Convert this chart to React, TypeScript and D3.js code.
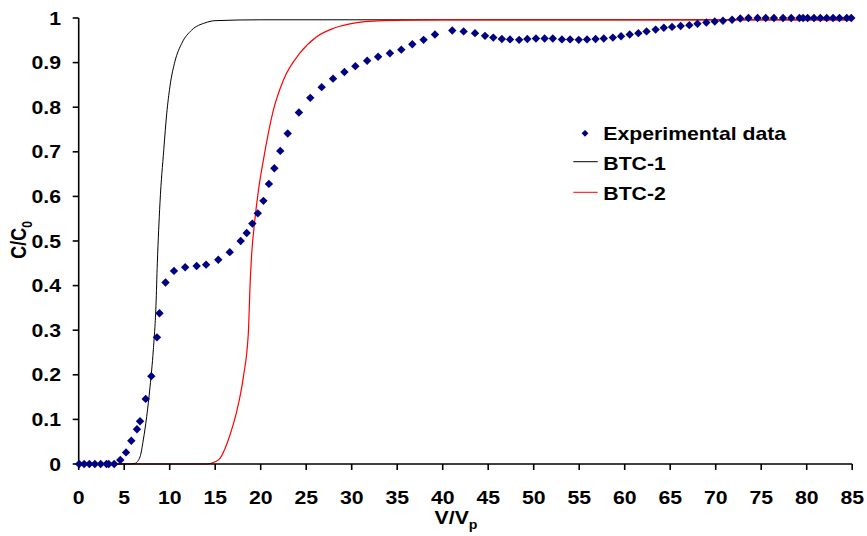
import React from "react";
import * as d3 from "d3";

// Experimental data (V/Vp, C/C0)
const expX = [0.05, 0.6, 1.17, 1.78, 2.42, 3.05, 3.3, 3.9, 4.57, 5.2, 5.78, 6.4, 6.74, 7.36, 7.98, 8.6, 8.88, 9.54, 10.47, 11.7, 12.96, 14.0, 15.34, 16.6, 17.8, 18.46, 19.08, 19.68, 20.3, 20.9, 21.5, 22.15, 22.97, 24.2, 25.45, 26.7, 27.95, 29.2, 30.4, 31.7, 32.9, 34.2, 35.45, 36.66, 37.9, 39.15, 41.05, 42.3, 43.55, 44.65, 45.56, 46.5, 47.4, 48.4, 49.3, 50.25, 51.2, 52.1, 53.1, 54.0, 54.95, 55.86, 56.8, 57.7, 58.7, 59.6, 60.55, 61.5, 62.4, 63.4, 64.3, 65.2, 66.15, 67.1, 68.0, 68.97, 69.9, 70.8, 71.8, 72.7, 73.6, 74.6, 75.5, 76.4, 77.4, 78.3, 79.2, 79.6, 80.1, 80.8, 81.5, 82.2, 82.9, 83.6, 84.4, 84.9];
const expY = [0, 0, 0, 0, 0, 0, 0, 0, 0.009, 0.026, 0.052, 0.078, 0.096, 0.146, 0.197, 0.284, 0.338, 0.407, 0.433, 0.441, 0.444, 0.447, 0.458, 0.475, 0.5, 0.518, 0.539, 0.562, 0.59, 0.628, 0.663, 0.702, 0.741, 0.788, 0.821, 0.845, 0.864, 0.879, 0.892, 0.904, 0.913, 0.921, 0.929, 0.941, 0.951, 0.963, 0.972, 0.97, 0.966, 0.96, 0.956, 0.953, 0.952, 0.951, 0.953, 0.954, 0.954, 0.954, 0.952, 0.952, 0.951, 0.952, 0.953, 0.954, 0.956, 0.959, 0.963, 0.966, 0.97, 0.974, 0.978, 0.98, 0.982, 0.984, 0.987, 0.99, 0.992, 0.994, 0.996, 0.999, 1, 1, 1, 1, 1, 1, 1, 1, 1, 1, 1, 1, 1, 1, 1, 1];

// BTC-1 model curve
const btc1X = [4.3, 5.45, 6.19, 6.74, 7.1, 7.47, 7.84, 8.2, 8.49, 8.64, 8.93, 9.35, 9.67, 10.03, 10.58, 11.32, 12.42, 13.88, 14.98, 20, 40, 85];
const btc1Y = [0, 0, 0.0015, 0.016, 0.054, 0.106, 0.173, 0.256, 0.355, 0.45, 0.585, 0.705, 0.785, 0.847, 0.903, 0.943, 0.973, 0.989, 0.994, 0.996, 0.996, 0.996];

// BTC-2 model curve
const btc2X = [4.3, 14.0, 15.0, 15.5, 16.3, 17.0, 17.4, 18.1, 18.64, 18.85, 19.0, 19.37, 19.74, 20.3, 21.4, 22.5, 24.3, 26.15, 28.0, 29.8, 33.4, 40, 85];
const btc2Y = [0, 0, 0.005, 0.012, 0.046, 0.09, 0.121, 0.196, 0.293, 0.41, 0.468, 0.55, 0.612, 0.682, 0.794, 0.861, 0.921, 0.958, 0.977, 0.987, 0.994, 0.996, 0.996];

const xTicks = [0, 5, 10, 15, 20, 25, 30, 35, 40, 45, 50, 55, 60, 65, 70, 75, 80, 85];
const yTicks = [0, 0.1, 0.2, 0.3, 0.4, 0.5, 0.6, 0.7, 0.8, 0.9, 1];
const legendLabels = ["Experimental data", "BTC-1", "BTC-2"];

const FONT = "'Liberation Sans', Arial, sans-serif";
const SX = 1.18;

export default function App() {
  const x = d3.scaleLinear().domain([0, 85]).range([78.7, 852.2]);
  const y = d3.scaleLinear().domain([0, 1]).range([464, 18]);

  const line = d3
    .line<[number, number]>()
    .x((d) => x(d[0]))
    .y((d) => y(d[1]))
    .curve(d3.curveMonotoneX);

  const b1 = line(btc1X.map((v, i) => [v, btc1Y[i]] as [number, number])) || "";
  const b2 = line(btc2X.map((v, i) => [v, btc2Y[i]] as [number, number])) || "";

  const diamond = (cx: number, cy: number, r: number) =>
    `M${cx},${cy - r}L${cx + r},${cy}L${cx},${cy + r}L${cx - r},${cy}Z`;

  const textStyle = { fontFamily: FONT, fontWeight: 700, fontSize: 18 } as const;

  return (
    <svg width={867} height={536} style={{ position: "absolute", left: 0, top: 0, background: "#fff" }}>
      <rect x={0} y={0} width={867} height={536} fill="#fff" />
      {/* curves */}
      <path d={b1} fill="none" stroke="#000" strokeWidth={1} />
      <path d={b2} fill="none" stroke="#ff0000" strokeWidth={1.2} />

      {/* axes */}
      <line x1={x(0)} x2={x(0)} y1={y(0)} y2={y(1)} stroke="#000" strokeWidth={1.6} />
      <line x1={x(0)} x2={x(85)} y1={y(0)} y2={y(0)} stroke="#000" strokeWidth={1.6} />
      {yTicks.map((t) => (
        <g key={"y" + t}>
          <line x1={x(0) - 6} x2={x(0)} y1={y(t)} y2={y(t)} stroke="#000" strokeWidth={1.6} />
          <text
            transform={`translate(${61},${y(t) + 6.5}) scale(${SX},1)`}
            textAnchor="end"
            style={textStyle}
          >
            {String(t)}
          </text>
        </g>
      ))}
      {xTicks.map((t) => (
        <g key={"x" + t}>
          <line x1={x(t)} x2={x(t)} y1={y(0)} y2={y(0) + 6} stroke="#000" strokeWidth={1.6} />
          <text
            transform={`translate(${x(t)},${504}) scale(${SX},1)`}
            textAnchor="middle"
            style={textStyle}
          >
            {String(t)}
          </text>
        </g>
      ))}

      {/* experimental points */}
      {expX.map((v, i) => (
        <path key={"p" + i} d={diamond(x(v), y(expY[i]), 4.2)} fill="#000080" />
      ))}

      {/* axis titles */}
      <text transform={`translate(456,524) scale(${SX},1)`} textAnchor="middle" style={textStyle}>
        V/V<tspan fontSize={12} dy={5}>p</tspan>
      </text>
      <text transform={`translate(26,240) scale(${SX},1) rotate(-90)`} textAnchor="middle" style={textStyle}>
        C/C<tspan fontSize={12} dy={5}>0</tspan>
      </text>

      {/* legend */}
      <path d={diamond(585, 133.3, 3.4)} fill="#000080" />
      <line x1={573.3} x2={597.7} y1={161.7} y2={161.7} stroke="#000" strokeWidth={1} />
      <line x1={573.3} x2={597.7} y1={192.3} y2={192.3} stroke="#ff0000" strokeWidth={1} />
      {legendLabels.map((l, i) => (
        <text key={l} transform={`translate(603.3,${140 + i * 30}) scale(${SX},1)`} style={textStyle}>
          {l}
        </text>
      ))}
    </svg>
  );
}
